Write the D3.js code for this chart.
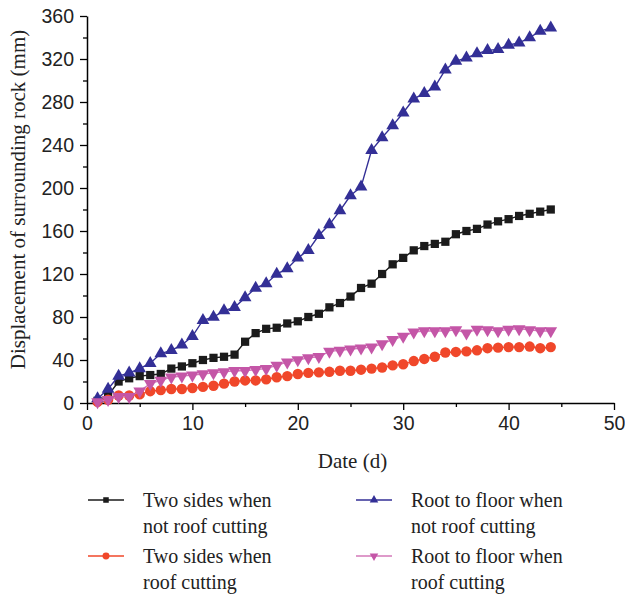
<!DOCTYPE html>
<html lang="en">
<head>
    <meta charset="UTF-8">
    <title>Displacement of surrounding rock</title>
    <script src="https://d3js.org/d3.v7.min.js"></script>
    <style>
        body { margin: 0; background: #fff; }
        svg { font-family: "Liberation Serif", "Times New Roman", serif; }
    </style>
</head>
<body>
    <script>
        // Data (days 1..44)
        const days = d3.range(1, 45);
        const twoSidesNotCut = [2, 7, 20, 23, 25, 26, 27, 32, 34, 37, 40, 42, 43, 45, 57, 65, 69, 70, 74, 76, 80, 83, 89, 93, 99, 107, 111, 120, 129, 135, 142, 146, 148, 150, 157, 160, 162, 166, 169, 171, 174, 176, 178, 180];
        const twoSidesCut = [1, 3, 7, 7, 8, 11, 12, 13, 13, 14, 15, 16, 18, 20, 21, 21, 22, 24, 25, 27, 28, 28.5, 29, 30, 30, 31, 32, 33, 35, 36, 39, 41, 43, 47, 47.5, 48, 49, 51, 51.5, 52, 52, 52.5, 51, 52];
        const roofFloorNotCut = [4, 13, 25, 28, 32, 37, 46, 49, 54, 62, 77, 80, 86, 89, 98, 107, 111, 120, 125, 135, 142, 156, 166, 179, 193, 201, 235, 247, 258, 270, 283, 288, 294, 310, 318, 321, 325, 328, 329, 333, 335, 340, 346, 349];
        const roofFloorCut = [1, 3, 6, 6, 11, 18, 21, 24, 25, 26, 27, 28, 29, 30, 30, 31, 32, 35, 38, 40, 42, 43, 48, 49, 50, 51, 52, 55, 59, 62, 66, 67, 67, 67, 68, 65, 68.5, 68, 67, 68.5, 69, 68, 67, 67];

        const xTicks = [0, 10, 20, 30, 40, 50];
        const yTicks = [0, 40, 80, 120, 160, 200, 240, 280, 320, 360];

        const series = [
            { label: ["Two sides when", "not roof cutting"], values: twoSidesNotCut, color: "#1b1b1b", line: "#1b1b1b", symbol: d3.symbolSquare, size: 68, rot: 0 },
            { label: ["Two sides when", "roof cutting"], values: twoSidesCut, color: "#f0472a", line: "#f0472a", symbol: d3.symbolCircle, size: 85, rot: 0 },
            { label: ["Root to floor when", "not roof cutting"], values: roofFloorNotCut, color: "#332f96", line: "#332f96", symbol: d3.symbolTriangle, size: 70, rot: 0 },
            { label: ["Root to floor when", "roof cutting"], values: roofFloorCut, color: "#c456a7", line: "#d379b9", symbol: d3.symbolTriangle, size: 70, rot: 180 }
        ];

        const width = 625, height = 597;
        const margin = { top: 16, right: 11, bottom: 194, left: 87 };

        const x = d3.scaleLinear().domain([0, 50]).range([margin.left, width - margin.right]);
        const y = d3.scaleLinear().domain([0, 360]).range([height - margin.bottom, margin.top]);

        const svg = d3.select("body").append("svg")
            .attr("width", width)
            .attr("height", height);

        // minor ticks
        svg.append("g")
            .attr("transform", `translate(0,${y(0)})`)
            .call(d3.axisBottom(x).tickValues(d3.range(5, 50, 10)).tickSize(4).tickFormat(""))
            .call(g => g.select(".domain").remove())
            .selectAll("line").attr("stroke-width", 1.3);
        svg.append("g")
            .attr("transform", `translate(${x(0)},0)`)
            .call(d3.axisLeft(y).tickValues(d3.range(20, 360, 40)).tickSize(4).tickFormat(""))
            .call(g => g.select(".domain").remove())
            .selectAll("line").attr("stroke-width", 1.3);

        // x axis
        const gx = svg.append("g")
            .attr("transform", `translate(0,${y(0)})`)
            .call(d3.axisBottom(x).tickValues(xTicks).tickSize(7).tickSizeOuter(0).tickPadding(6));
        gx.select(".domain").attr("stroke-width", 1.5);
        gx.selectAll("line").attr("stroke-width", 1.3);
        gx.selectAll("text").attr("font-size", 19.5).attr("fill", "#222");

        // y axis
        const gy = svg.append("g")
            .attr("transform", `translate(${x(0)},0)`)
            .call(d3.axisLeft(y).tickValues(yTicks).tickSize(7).tickSizeOuter(0).tickPadding(6));
        gy.select(".domain").attr("stroke-width", 1.5);
        gy.selectAll("line").attr("stroke-width", 1.3);
        gy.selectAll("text").attr("font-size", 19.5).attr("fill", "#222");

        // axis titles
        svg.append("text")
            .attr("x", (x(0) + x(50)) / 2 + 2)
            .attr("y", 468)
            .attr("text-anchor", "middle")
            .attr("font-size", 21)
            .attr("fill", "#222")
            .text("Date (d)");

        svg.append("text")
            .attr("transform", `translate(25,${(y(0) + y(360)) / 2 - 10}) rotate(-90)`)
            .attr("text-anchor", "middle")
            .attr("font-size", 21)
            .attr("fill", "#222")
            .text("Displacement of surrounding rock (mm)");

        // lines and markers
        const line = d3.line()
            .x((d, i) => x(days[i]))
            .y(d => y(d));

        series.forEach(s => {
            svg.append("path")
                .datum(s.values)
                .attr("fill", "none")
                .attr("stroke", s.line)
                .attr("stroke-width", 1.4)
                .attr("d", line);

            svg.append("g")
                .selectAll("path")
                .data(s.values)
                .join("path")
                .attr("transform", (d, i) => `translate(${x(days[i])},${y(d)}) rotate(${s.rot})`)
                .attr("d", d3.symbol().type(s.symbol).size(s.size))
                .attr("fill", s.color);
        });

        // legend
        const legendPos = [[88, 500], [88, 556], [356, 500], [356, 556]];
        const legend = svg.append("g")
            .selectAll("g")
            .data(series)
            .join("g")
            .attr("transform", (d, i) => `translate(${legendPos[i][0]},${legendPos[i][1]})`);

        legend.append("line")
            .attr("x1", 0).attr("x2", 36)
            .attr("y1", 0).attr("y2", 0)
            .attr("stroke", d => d.line)
            .attr("stroke-width", 1.4);

        legend.append("path")
            .attr("transform", d => `translate(18,0) rotate(${d.rot})`)
            .attr("d", d => d3.symbol().type(d.symbol).size(d.size * 0.45)())
            .attr("fill", d => d.color);

        legend.append("text")
            .attr("x", 55)
            .attr("y", 7)
            .attr("font-size", 20)
            .attr("fill", "#222")
            .selectAll("tspan")
            .data(d => d.label)
            .join("tspan")
            .attr("x", 55)
            .attr("dy", (d, i) => i === 0 ? 0 : 26)
            .text(d => d);
    </script>
</body>
</html>
